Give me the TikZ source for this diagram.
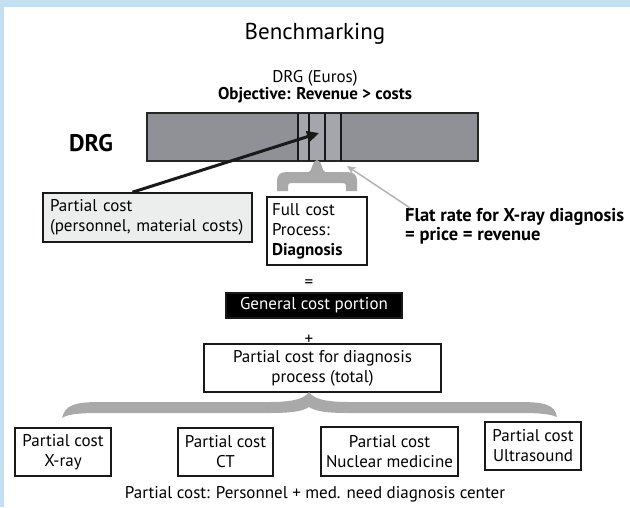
\documentclass[tikz,border=0pt]{standalone}
\usepackage{fontspec}
\setmainfont{PT Sans}
\usetikzlibrary{arrows.meta}
\definecolor{framebl}{HTML}{C4DFEF}
\definecolor{bargrey}{HTML}{909196}
\definecolor{slicegrey}{HTML}{A5A6AB}
\definecolor{bracegrey}{HTML}{A9A9A9}
\definecolor{boxfill}{HTML}{ECEEED}
\definecolor{pointgrey}{HTML}{B3B3B3}
\newcommand\txtfont{\fontsize{17}{20}\selectfont}
\tikzset{
  costbox/.style={draw=black!90, line width=1.6pt, inner sep=0pt, align=center, font=\txtfont},
  plain/.style={inner sep=0pt, align=center, font=\txtfont},
  bracefill/.style={fill=bracegrey, draw=none}
}
\begin{document}
\begin{tikzpicture}[x=1pt, y=-1pt]
  \useasboundingbox (0,0) rectangle (630,507);
  \fill[framebl] (0,0) rectangle (630,7);
  \fill[framebl] (0,0) rectangle (4,507);
  % headings
  \node[plain, font=\fontsize{23}{26}\selectfont] (bench) at (315,34) {Benchmarking};
  \node[plain] (euros) at (315,78) {DRG (Euros)};
  \node[plain, font=\txtfont\bfseries] (objective) at (315,95) {Objective: Revenue > costs};
  \node[plain, font=\fontsize{24}{26}\selectfont\bfseries] (drglbl) at (91,143) {DRG};
  % the DRG bar
  \node[draw=black!85, line width=1.2pt, fill=bargrey, minimum width=331pt, minimum height=48pt] (bar) at (312.5,137) {};
  \fill[slicegrey] (298,114) rectangle (341,160);
  \foreach \xs in {298,309,325,341}
    \draw[black!90, line width=1.5pt] (\xs,113) -- (\xs,161);
  \coordinate (tipblk) at (319,133);
  \coordinate (tipgry) at (347,166);
  % upper brace
  \path[bracefill] (277,191) -- (277,181) .. controls (277,175) and (280,172) .. (287,172)
    -- (309,172) .. controls (312,172) and (312,160) .. (317,160)
    .. controls (322,160) and (322,172) .. (325,172) -- (347,172)
    .. controls (354,172) and (357,175) .. (357,181) -- (357,191) -- (346,191) -- (346,186)
    .. controls (346,184) and (345,183) .. (343,183) -- (291,183)
    .. controls (289,183) and (288,184) .. (288,186) -- (288,191) -- cycle;
  % boxes
  \node[costbox, fill=boxfill, align=left, text width=195pt, inner xsep=7pt, minimum height=49pt] (pcost) at (147.5,217.5)
    {Partial cost\\(personnel, material costs)};
  \node[costbox, align=left, text width=90pt, inner xsep=5pt, minimum height=68pt] (fcost) at (317,231)
    {Full cost\\Process:\\\textbf{Diagnosis}};
  \node[plain, anchor=west, align=left, font=\fontsize{18.5}{19}\selectfont\bfseries] (flat) at (405,226)
    {Flat rate for X-ray diagnosis\\= price = revenue};
  \node[plain] (eq) at (309,284) {=};
  \node[costbox, fill=black, text=white, minimum width=176pt, minimum height=25pt] (general) at (314,305.5) {General cost portion};
  \node[plain] (plus) at (309,340) {+};
  \node[costbox, minimum width=237pt, minimum height=48pt] (ptotal) at (322.5,368)
    {Partial cost for diagnosis\\process (total)};
  % lower brace
  \path[bracefill] (62,418) .. controls (65,405) and (75,402) .. (100,402) -- (270,402)
    .. controls (295,402) and (305,398) .. (309,392) .. controls (313,398) and (323,402) .. (348,402)
    -- (520,402) .. controls (545,402) and (555,405) .. (557,417)
    .. controls (550,414) and (540,413) .. (520,413) -- (348,413)
    .. controls (325,413) and (315,411) .. (309,407) .. controls (303,411) and (293,413) .. (270,413)
    -- (100,413) .. controls (80,413) and (68,414) .. (62,418) -- cycle;
  \node[costbox, minimum width=96pt, minimum height=48pt] (xray) at (63,452) {Partial cost\\X-ray};
  \node[costbox, minimum width=95pt, minimum height=48pt] (ct) at (225.5,452) {Partial cost\\CT};
  \node[costbox, minimum width=137pt, minimum height=49pt] (nuclear) at (389.5,451.5) {Partial cost\\Nuclear medicine};
  \node[costbox, minimum width=96pt, minimum height=48pt] (ultra) at (533,446) {Partial cost\\Ultrasound};
  \node[plain] (footer) at (315,494) {Partial cost: Personnel + med. need diagnosis center};
  % pointers
  \draw[black!90, line width=3pt, -{Triangle[length=12pt,width=11pt]}] ([xshift=-15pt]pcost.north) -- (tipblk);
  \draw[pointgrey, line width=1.5pt, -{Stealth[length=9pt,width=8pt]}] ([xshift=5pt]flat.north west) -- (tipgry);
\end{tikzpicture}
\end{document}
